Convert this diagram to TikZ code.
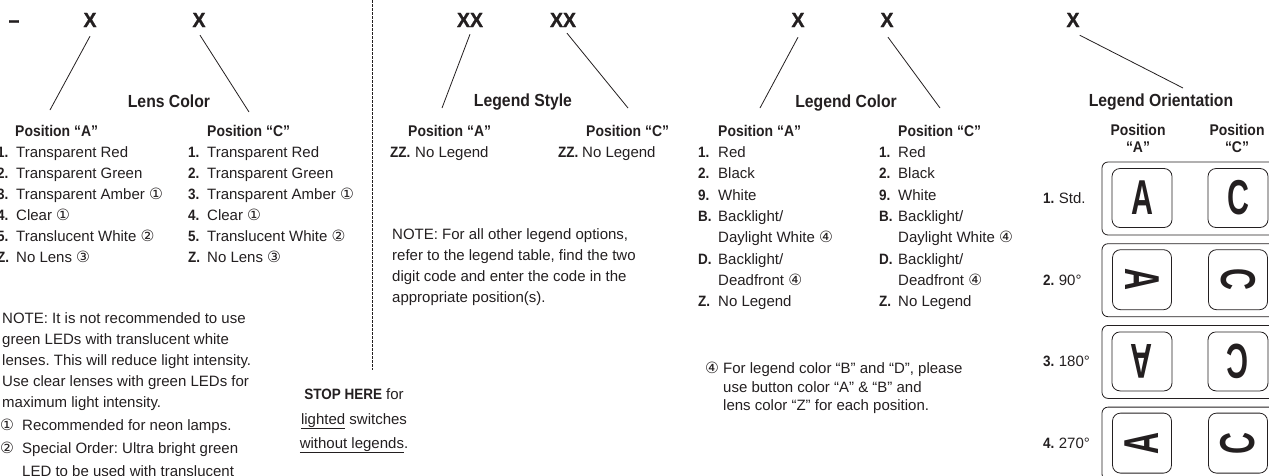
\documentclass[tikz,border=0pt]{standalone}
\usepackage{fontspec}
\setmainfont{Liberation Sans}
\newfontfamily\condfont{Liberation Sans}[FakeStretch=0.9]
\newfontfamily\codefont{Liberation Sans}[FakeStretch=0.95, FakeBold=1.2]
\newfontfamily\keyfont{Liberation Sans}[FakeStretch=0.62]
\newfontfamily\symfont{DejaVu Sans}
\usetikzlibrary{positioning}
\definecolor{ink}{HTML}{231F20}
\newcommand{\circnum}[1]{{\symfont\fontsize{15.5}{15}\selectfont #1}}
\frenchspacing

\tikzset{
  codechar/.style={font=\codefont\bfseries\fontsize{20.5}{21}\selectfont, anchor=base, inner sep=0pt},
  heading/.style={font=\condfont\bfseries\fontsize{17.5}{18}\selectfont, anchor=base, inner sep=0pt},
  posname/.style={font=\condfont\bfseries\fontsize{15.5}{16}\selectfont, anchor=base west, inner sep=0pt},
  itemnum/.style={font=\condfont\bfseries\fontsize{15}{16}\selectfont, anchor=base west, inner sep=0pt},
  itemtxt/.style={font=\fontsize{15}{16}\selectfont, anchor=base west, inner sep=0pt},
  leader/.style={line width=0.8pt},
  divider/.style={line width=0.8pt, dash pattern=on 2.5pt off 1.5pt},
  keycap/.style={draw, rounded corners=8pt, line width=0.8pt, minimum width=60pt, minimum height=59pt, inner sep=0pt, font=\keyfont\bfseries\fontsize{49}{49}\selectfont},
  rowbox/.style={rounded corners=6pt, line width=0.8pt}
}

\begin{document}
\begin{tikzpicture}[x=1pt, y=-1pt, color=ink, text=ink]
  \useasboundingbox (0,0) rectangle (1269,475);
  \clip (0,0) rectangle (1269,475);

  % lens color
  \node[codechar] (dash) at (14,27) {–};
  \node[codechar] (x1) at (90,27) {X};
  \node[codechar] (x2) at (199,27) {X};
  \coordinate (lensA) at (50,110);
  \coordinate (lensC) at (249,112);
  \draw[leader] ([yshift=-9pt]x1.south) -- (lensA);
  \draw[leader] ([xshift=1pt,yshift=-8pt]x2.south) -- (lensC);
  \node[heading] (lens) at (169,107) {Lens Color};
  \node[posname] (lensposA) at (15,136) {Position “A”};
  \node[posname] (lensposC) at (207,136) {Position “C”};
  \foreach \n/\t [count=\k from 0] in {1./Transparent Red, 2./Transparent Green, 3./{Transparent Amber \circnum{①}}, 4./{Clear \circnum{①}}, 5./{Translucent White \circnum{②}}, Z./{No Lens \circnum{③}}} {
    \node[itemnum] (lan\k) at (-3,157.5+21*\k) {\n};
    \node[itemtxt] (lat\k) at (16,157.5+21*\k) {\t};
    \node[itemnum] (lcn\k) at (188,157.5+21*\k) {\n};
    \node[itemtxt] (lct\k) at (207,157.5+21*\k) {\t};
  }
  \foreach \t [count=\k from 0] in {NOTE: It is not recommended to use, green LEDs with translucent white, lenses. This will reduce light intensity., Use clear lenses with green LEDs for, maximum light intensity.} {
    \node[itemtxt] (lnote\k) at (2,323.5+21*\k) {\t};
  }
  \node[itemtxt] (fn1) at (0,430.5) {\circnum{①}};
  \node[itemtxt] (fn1t) at (22,430.5) {Recommended for neon lamps.};
  \node[itemtxt] (fn2) at (0,453.5) {\circnum{②}};
  \node[itemtxt] (fn2t) at (22,453.5) {Special Order: Ultra bright green};
  \node[itemtxt] (fn2u) at (22,476.5) {LED to be used with translucent};

  \draw[divider] (372,0) -- (372,370);

  % legend style
  \node[codechar] (xx1) at (470,27) {XX};
  \node[codechar] (xx2) at (563,27) {XX};
  \coordinate (styleA) at (442,108);
  \coordinate (styleC) at (628,108);
  \draw[leader] ([yshift=-7pt]xx1.south) -- (styleA);
  \draw[leader] ([xshift=4pt,yshift=-6pt]xx2.south) -- (styleC);
  \node[heading] (style) at (523,106) {Legend Style};
  \node[posname] (styleposA) at (408,136) {Position “A”};
  \node[posname] (styleposC) at (586,136) {Position “C”};
  \node[itemnum] (szA) at (390,157.5) {ZZ.};
  \node[itemtxt] (stA) at (415,157.5) {No Legend};
  \node[itemnum] (szC) at (558,157.5) {ZZ.};
  \node[itemtxt] (stC) at (582,157.5) {No Legend};
  \foreach \t [count=\k from 0] in {{NOTE: For all other legend options,}, {refer to the legend table, find the two}, digit code and enter the code in the, appropriate position(s).} {
    \node[itemtxt] (snote\k) at (392,239.5+21*\k) {\t};
  }
  \node[itemtxt, anchor=base] (stop1) at (354,399) {{\condfont\bfseries STOP HERE} for};
  \node[itemtxt, anchor=base] (stop2) at (354,424) {\underline{lighted} switches};
  \node[itemtxt, anchor=base] (stop3) at (354,448) {\underline{without legends}.};

  % legend color
  \node[codechar] (x5) at (798,27) {X};
  \node[codechar] (x6) at (887,27) {X};
  \coordinate (colA) at (760,108);
  \coordinate (colC) at (940,108);
  \draw[leader] ([yshift=-10pt]x5.south) -- (colA);
  \draw[leader] ([xshift=1pt,yshift=-10pt]x6.south) -- (colC);
  \node[heading] (color) at (846,107) {Legend Color};
  \node[posname] (colposA) at (718,136) {Position “A”};
  \node[posname] (colposC) at (898,136) {Position “C”};
  \foreach \n/\k in {1./0, 2./1, 9./2, B./3, D./5, Z./7} {
    \node[itemnum] (can\k) at (698,157.5+21.3*\k) {\n};
    \node[itemnum] (ccn\k) at (879,157.5+21.3*\k) {\n};
  }
  \foreach \t [count=\k from 0] in {Red, Black, White, {Backlight/}, {Daylight White \circnum{④}}, {Backlight/}, {Deadfront \circnum{④}}, No Legend} {
    \node[itemtxt] (cat\k) at (718,157.5+21.3*\k) {\t};
    \node[itemtxt] (cct\k) at (898,157.5+21.3*\k) {\t};
  }
  \node[itemtxt] (fn4) at (705,373.5) {\circnum{④}};
  \node[itemtxt] (fn4a) at (723,373.5) {For legend color “B” and “D”, please};
  \node[itemtxt] (fn4b) at (723,392) {use button color “A” \& “B” and};
  \node[itemtxt] (fn4c) at (723,410.5) {lens color “Z” for each position.};

  % legend orientation
  \node[codechar] (x7) at (1073,27) {X};
  \coordinate (orient) at (1183,88);
  \draw[leader] ([yshift=-8pt]x7.south east) -- (orient);
  \node[heading] (orientation) at (1161,106) {Legend Orientation};
  \node[posname, anchor=base] (oposA) at (1138,135.5) {Position};
  \node[posname, anchor=base] (oposAq) at (1138,152.5) {“A”};
  \node[posname, anchor=base] (oposC) at (1237,135.5) {Position};
  \node[posname, anchor=base] (oposCq) at (1237,152.5) {“C”};
  \foreach \r/\lab/\ang [count=\k from 0] in {1/Std./0, 2/90°/-90, 3/180°/180, 4/270°/90} {
    \pgfmathsetmacro\rowtop{162+81.7*\k}
    \draw[rowbox] (1102,\rowtop) rectangle (1300,\rowtop+73);
    \node[keycap, rotate=\ang] (ka\r) at (1142,\rowtop+36) {A};
    \node[keycap, rotate=\ang] (kc\r) at (1238,\rowtop+36) {C};
    \node[itemnum] (rn\r) at (1043,\rowtop+41.4) {\r.};
    \node[itemtxt] (rl\r) at ([xshift=4pt]rn\r.base east) {\lab};
  }
\end{tikzpicture}
\end{document}
